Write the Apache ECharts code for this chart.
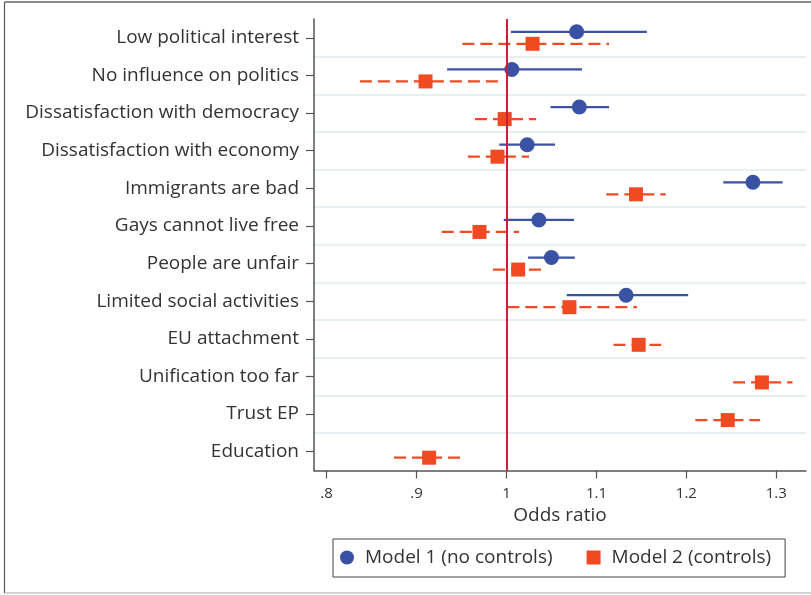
<!DOCTYPE html>
<html>
<head>
<meta charset="utf-8">
<script src="https://cdn.jsdelivr.net/npm/echarts@6/dist/echarts.min.js"></script>
<style>html,body{margin:0;padding:0;background:#fff;}#chart{width:811px;height:595px;}</style>
</head>
<body>
<div id="chart"></div>
<script>
const categories = ['Low political interest','No influence on politics','Dissatisfaction with democracy','Dissatisfaction with economy','Immigrants are bad','Gays cannot live free','People are unfair','Limited social activities','EU attachment','Unification too far','Trust EP','Education'];
const m1Est = [1.078, 1.006, 1.081, 1.023, 1.274, 1.036, 1.050, 1.133, null, null, null, null];
const m1Lo  = [1.005, 0.934, 1.049, 0.992, 1.241, 0.997, 1.024, 1.067, null, null, null, null];
const m1Hi  = [1.156, 1.084, 1.114, 1.054, 1.307, 1.075, 1.076, 1.202, null, null, null, null];
const m2Est = [1.029, 0.910, 0.998, 0.990, 1.144, 0.970, 1.013, 1.070, 1.147, 1.284, 1.246, 0.914];
const m2Lo  = [0.951, 0.837, 0.965, 0.957, 1.111, 0.928, 0.985, 1.001, 1.119, 1.252, 1.210, 0.875];
const m2Hi  = [1.114, 0.991, 1.033, 1.025, 1.177, 1.014, 1.039, 1.145, 1.172, 1.318, 1.282, 0.949];
const xTicks = [0.8, 0.9, 1, 1.1, 1.2, 1.3];
const xTickLabels = ['.8', '.9', '1', '1.1', '1.2', '1.3'];
const refValue = 1;

const blue = '#3a52a3';
const red = '#f04a23';
const font = 'Open Sans';

function pts(est){ return est.map((v,i)=> v==null ? null : [v, categories[i]]).filter(d=>d); }
function cis(lo, hi){ return lo.map((v,i)=> v==null ? null : [i, v, hi[i]]).filter(d=>d); }
function whisker(color, off, dash){
  return function(params, api){
    const c = api.value(0);
    const p1 = api.coord([api.value(1), c]);
    const p2 = api.coord([api.value(2), c]);
    return {type:'line', shape:{x1:p1[0], y1:p1[1]+off, x2:p2[0], y2:p2[1]+off},
      style:{stroke:color, lineWidth:2.2, lineDash:dash}};
  };
}

const chart = echarts.init(document.getElementById('chart'), null, {renderer:'canvas'});
chart.setOption({
  animation:false,
  backgroundColor:'#fff',
  textStyle:{fontFamily:font},
  grid:{left:314, right:5, top:19, bottom:124.5, containLabel:false},
  xAxis:{type:'value', min:0.786, max:1.333,
    name:'Odds ratio', nameLocation:'middle', nameGap:33,
    nameTextStyle:{fontFamily:font, fontSize:19, color:'#333'},
    axisLine:{show:true, lineStyle:{color:'#555', width:1.5}},
    axisTick:{show:true, length:8, customValues:xTicks, lineStyle:{color:'#555', width:1.2}},
    axisLabel:{customValues:xTicks, margin:16, fontSize:15, color:'#333', fontFamily:font,
      formatter:function(v){ const i = xTicks.findIndex(t=>Math.abs(t-v)<1e-9); return i>=0 ? xTickLabels[i] : ''; }},
    splitLine:{show:false}
  },
  yAxis:{type:'category', data:categories, inverse:true,
    axisLine:{show:true, lineStyle:{color:'#555', width:1.5}},
    axisTick:{show:true, alignWithLabel:true, length:8, lineStyle:{color:'#555', width:1.2}},
    axisLabel:{fontSize:19, color:'#333', fontFamily:font, margin:15},
    splitLine:{show:true, showMinLine:false, showMaxLine:false, lineStyle:{color:'#e6eff2', width:2}}
  },
  legend:{data:[{name:'Model 1 (no controls)', icon:'circle'},{name:'Model 2 (controls)', icon:'rect'}],
    left:333, top:539, orient:'horizontal', itemWidth:14, itemHeight:14, itemGap:34,
    padding:[9,14,10,7], borderColor:'#444', borderWidth:1,
    textStyle:{fontFamily:font, fontSize:19, color:'#333', padding:[0,0,0,6]}},
  series:[
    {type:'custom', name:'ci1', renderItem:whisker(blue,-6,null), encode:{x:[1,2], y:0}, data:cis(m1Lo,m1Hi), z:2, silent:true},
    {type:'custom', name:'ci2', renderItem:whisker(red,6,[12,6]), encode:{x:[1,2], y:0}, data:cis(m2Lo,m2Hi), z:2, silent:true},
    {type:'scatter', name:'Model 1 (no controls)', symbol:'circle', symbolSize:15, symbolOffset:[0,-6],
      itemStyle:{color:blue, opacity:1}, data:pts(m1Est), z:4,
      markLine:{silent:true, symbol:['none','none'], label:{show:false},
        lineStyle:{color:'#c8203a', width:2, type:'solid'}, data:[{xAxis:refValue}]}},
    {type:'scatter', name:'Model 2 (controls)', symbol:'rect', symbolSize:14, symbolOffset:[0,6],
      itemStyle:{color:red, opacity:1}, data:pts(m2Est), z:4}
  ],
  graphic:[
    {type:'line', shape:{x1:4.5, y1:2, x2:811, y2:2}, style:{stroke:'#666', lineWidth:1.5}},
    {type:'line', shape:{x1:4.5, y1:2, x2:4.5, y2:593}, style:{stroke:'#555', lineWidth:1.2}},
    {type:'line', shape:{x1:4.5, y1:593, x2:811, y2:593}, style:{stroke:'#aaa', lineWidth:1.2}}
  ]
});
</script>
</body>
</html>
